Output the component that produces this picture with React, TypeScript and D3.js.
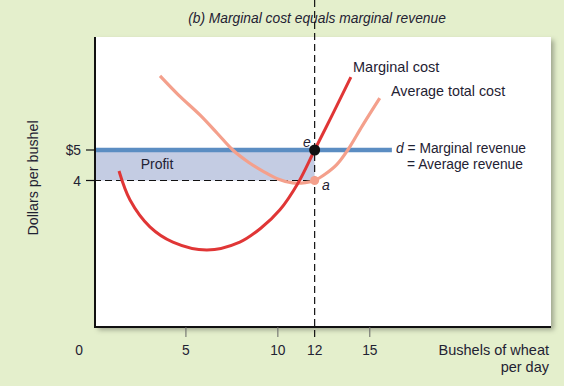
import * as d3 from 'd3';

// quantities (bushels per day) and prices (dollars per bushel)
const mcQty = [1.36, 1.96, 3.04, 4.29, 6.14, 7.93, 9.1, 10.1, 11.1, 12, 13, 13.97];
const mcPrice = [4.31, 3.36, 2.48, 1.98, 1.72, 1.98, 2.45, 3.03, 3.92, 5, 6.2, 7.39];

const atcQty = [3.59, 4.6, 5.76, 6.7, 7.55, 8.4, 9.2, 10, 10.8, 11.5, 12, 12.6, 13.2, 13.8, 14.6, 15.54];
const atcPrice = [7.43, 6.8, 6.15, 5.55, 5.0, 4.6, 4.3, 4.05, 3.92, 3.93, 4.0, 4.22, 4.52, 5.0, 5.8, 6.7];

const price = 5; // marginal revenue = average revenue
const mrEnd = 16.2;
const outputQ = 12;
const atcAtQ = 4;

const xTicks = [5, 10, 12, 15];
const yTicks = [
  { v: 5, label: '$5' },
  { v: 4, label: '4' },
];

export default function App() {
  const W = 564;
  const H = 386;
  const left = 95, right = 551, top = 37, bottom = 327;

  const x = d3.scaleLinear().domain([0, 24.8]).range([94, 550]);
  const y = d3.scaleLinear().domain([4, 5]).range([180.5, 150]);

  const line = d3.line<[number, number]>()
    .x(d => x(d[0]))
    .y(d => y(d[1]))
    .curve(d3.curveCatmullRom);

  const mc = mcQty.map((q, i) => [q, mcPrice[i]] as [number, number]);
  const atc = atcQty.map((q, i) => [q, atcPrice[i]] as [number, number]);

  const font = '"Liberation Sans", Arial, sans-serif';
  const ink = '#1f2233';

  return (
    <svg width={W} height={H} style={{ position: 'absolute', left: 0, top: 0, fontFamily: font }}>
      <style>{'body{margin:0}'}</style>
      <defs>
        <filter id="shadow" x="-5%" y="-5%" width="115%" height="115%">
          <feDropShadow dx="3" dy="3" stdDeviation="2.5" floodColor="#000" floodOpacity="0.3" />
        </filter>
      </defs>
      <rect width={W} height={H} fill="#e4efcc" />

      {/* plot panel */}
      <rect x={left} y={top} width={right - left} height={bottom - top} fill="#fff" filter="url(#shadow)" />

      {/* title */}
      <text x={317} y={23} textAnchor="middle" fontSize={13.8} fontStyle="italic" fill={ink}>
        (b) Marginal cost equals marginal revenue
      </text>

      {/* profit rectangle */}
      <rect x={x(0)} y={y(price)} width={x(outputQ) - x(0)} height={y(atcAtQ) - y(price)} fill="#c4cce3" />
      <text x={157} y={169} textAnchor="middle" fontSize={14} fill={ink}>Profit</text>

      {/* dashed guides */}
      <line x1={x(0)} x2={x(outputQ)} y1={y(atcAtQ)} y2={y(atcAtQ)} stroke="#111" strokeWidth={1.2} strokeDasharray="7,4" />
      <line x1={x(outputQ)} x2={x(outputQ)} y1={0} y2={337} stroke="#111" strokeWidth={1.2} strokeDasharray="7,4" />

      {/* MR = d */}
      <line x1={x(0)} x2={x(mrEnd)} y1={y(price)} y2={y(price)} stroke="#5b8dc2" strokeWidth={4.5} />

      {/* curves */}
      <path d={line(atc) ?? ''} fill="none" stroke="#f4a08c" strokeWidth={3.2} />
      <path d={line(mc) ?? ''} fill="none" stroke="#e03636" strokeWidth={3} />

      {/* points */}
      <circle cx={x(outputQ)} cy={y(atcAtQ)} r={4.5} fill="#f4a08c" />
      <circle cx={x(outputQ)} cy={y(price)} r={5.5} fill="#111" />
      <text x={307} y={147} textAnchor="middle" fontSize={14} fontStyle="italic" fill={ink}>e</text>
      <text x={326} y={190} textAnchor="middle" fontSize={14} fontStyle="italic" fill={ink}>a</text>

      {/* curve labels */}
      <text x={353} y={72} fontSize={14.5} fill={ink}>Marginal cost</text>
      <text x={391} y={96} fontSize={14.3} fill={ink}>Average total cost</text>
      <text x={396} y={153} fontSize={13.8} fill={ink}>
        <tspan fontStyle="italic">d</tspan> = Marginal revenue
      </text>
      <text x={407} y={169} fontSize={13.8} fill={ink}>= Average revenue</text>

      {/* axes */}
      <line x1={left} x2={left} y1={top} y2={bottom + 1} stroke="#111" strokeWidth={2} />
      <line x1={left} x2={right} y1={bottom} y2={bottom} stroke="#111" strokeWidth={2} />

      {xTicks.map(t => (
        <g key={t}>
          {t !== outputQ && (
            <line x1={x(t)} x2={x(t)} y1={bottom} y2={337} stroke="#666" strokeWidth={1} />
          )}
          <text x={x(t)} y={355} textAnchor="middle" fontSize={13.8} fill={ink}>{t}</text>
        </g>
      ))}
      <text x={79} y={355} textAnchor="middle" fontSize={13.8} fill={ink}>0</text>

      {yTicks.map(t => (
        <g key={t.v}>
          <line x1={86} x2={left} y1={y(t.v)} y2={y(t.v)} stroke="#111" strokeWidth={1.2} />
          <text x={81} y={y(t.v) + 5} textAnchor="end" fontSize={13.8} fill={ink}>{t.label}</text>
        </g>
      ))}

      <text x={549} y={355} textAnchor="end" fontSize={14.5} fill={ink}>Bushels of wheat</text>
      <text x={549} y={372} textAnchor="end" fontSize={14.5} fill={ink}>per day</text>

      <text transform="translate(38,178) rotate(-90)" textAnchor="middle" fontSize={14.3} fill={ink}>
        Dollars per bushel
      </text>
    </svg>
  );
}
